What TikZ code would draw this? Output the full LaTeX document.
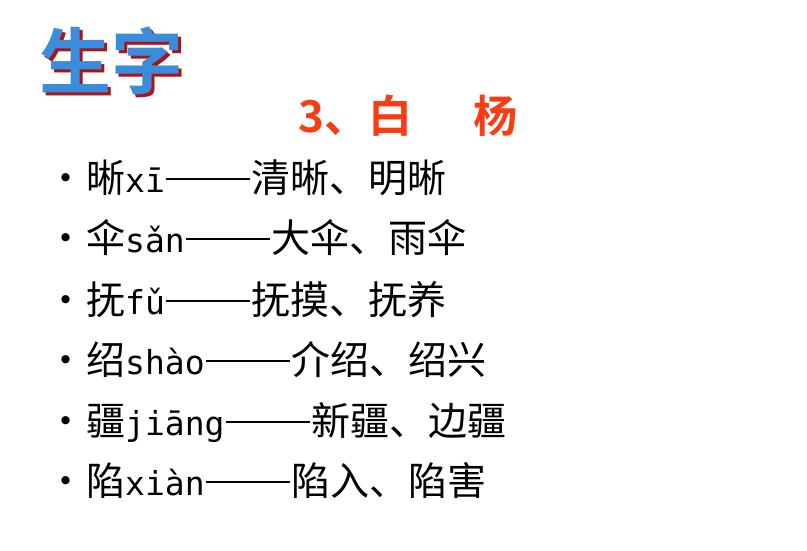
\documentclass[tikz,border=0pt]{standalone}
\usepackage{fontspec}
\newfontfamily\cjk{Noto Sans CJK SC}
\newfontfamily\cjkb{Noto Sans CJK SC Bold}
\newfontfamily\pinyin{DejaVu Sans Mono}
\definecolor{titleblue}{RGB}{60,140,220}
\definecolor{titlered}{RGB}{170,20,20}
\definecolor{headred}{RGB}{250,60,20}
\newcommand{\wordline}[3]{#1{\pinyin\fontsize{33}{33}\selectfont #2}\hspace{1pt}\rule[0.3em]{84pt}{2pt}\hspace{2pt}#3}
\tikzset{
  item/.style={anchor=base west, inner sep=0pt, font=\cjk\fontsize{39}{39}\selectfont},
  dot/.style={anchor=base, inner sep=0pt, font=\cjk\fontsize{39}{39}\selectfont}
}
\begin{document}
\begin{tikzpicture}[x=1pt,y=-1pt]
 \useasboundingbox (0,0) rectangle (807,550);
 % title with shadow
 \node[anchor=base west, inner sep=0pt, text=titlered,
       font=\cjkb\fontsize{72}{72}\selectfont] (shadow) at (42,91) {生字};
 \node[anchor=base west, inner sep=0pt, text=titleblue,
       font=\cjkb\fontsize{72}{72}\selectfont] (title) at (39,88) {生字};
 \node[anchor=base west, inner sep=0pt, text=headred,
       font=\cjkb\fontsize{44}{44}\selectfont] (lesson) at (298,132) {3、白\hspace{1.4em}杨};
 % word list
 \foreach \y/\zi/\py/\ci [count=\i] in {
   192/晰/xī/清晰、明晰,
   252/伞/sǎn/大伞、雨伞,
   314/抚/fǔ/抚摸、抚养,
   374/绍/shào/介绍、绍兴,
   435/疆/jiāng/新疆、边疆,
   495/陷/xiàn/陷入、陷害}{
   \node[dot] (b\i) at (66,\y) {•};
   \node[item] (w\i) at (86,\y) {\wordline{\zi}{\py}{\ci}};
 }
\end{tikzpicture}
\end{document}
